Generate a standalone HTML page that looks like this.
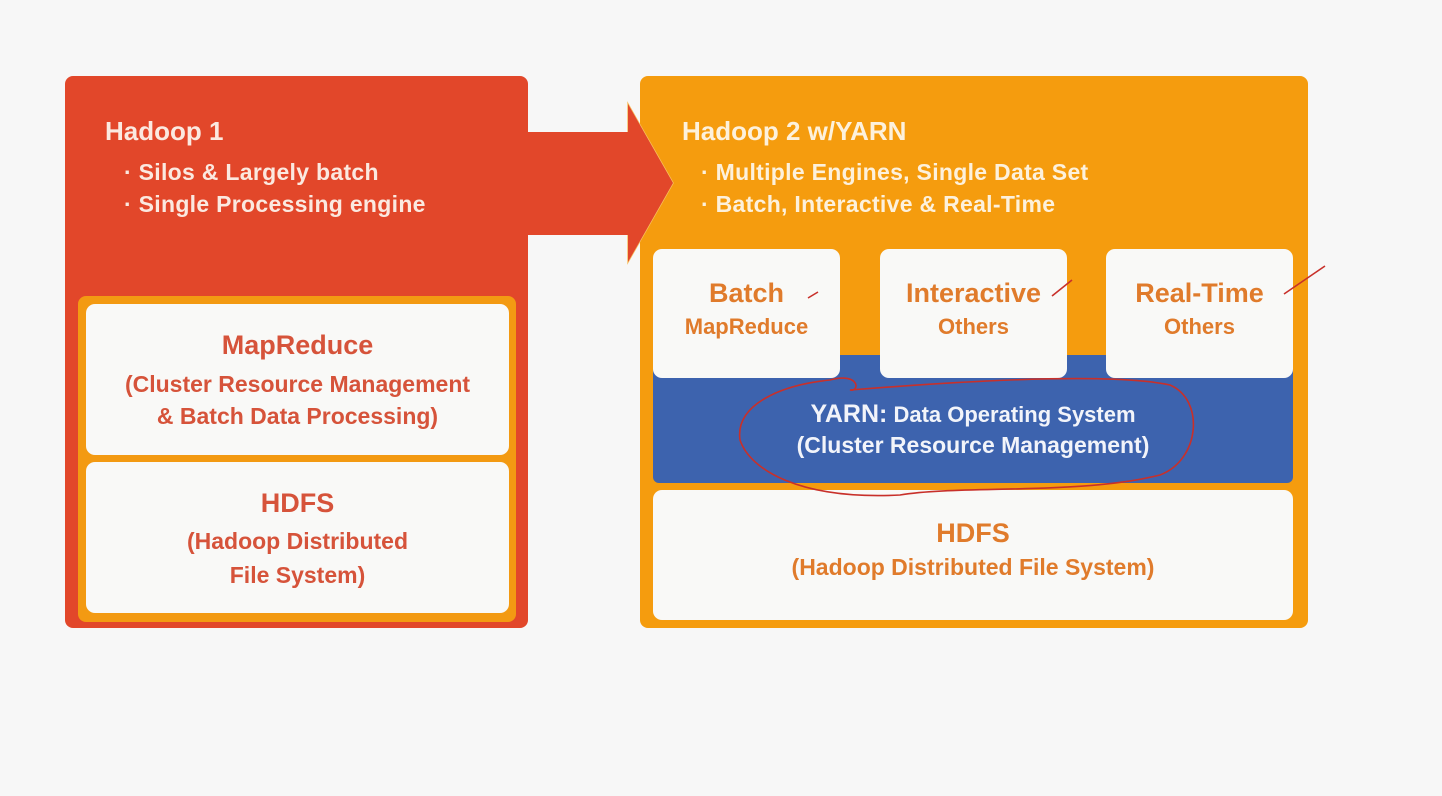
<!DOCTYPE html>
<html><head><meta charset="utf-8"><style>
body{margin:0;width:1442px;height:796px;background:#f7f7f7;position:relative;overflow:hidden;font-family:"Liberation Sans","DejaVu Sans",sans-serif;font-weight:bold}
.a{position:absolute}
.w{position:absolute;background:#f9f9f7;border-radius:9px}
.t{position:absolute;text-align:center;white-space:nowrap}
</style></head><body>
<div class="a" style="left:65px;top:76px;width:463px;height:552px;background:#e2472a;border-radius:8px"></div>
<div class="a" style="left:78px;top:296px;width:438px;height:326px;background:#f39a12;border-radius:8px"></div>
<div class="w" style="left:86px;top:304px;width:423px;height:151px"></div>
<div class="w" style="left:86px;top:462px;width:423px;height:151px"></div>
<div class="a" style="left:105px;top:116px;color:#fbe9e0;font-size:26px">Hadoop 1</div>
<div class="a" style="left:124px;top:156px;color:#fbe9e0;font-size:23px;line-height:32px;letter-spacing:0.3px">· Silos &amp; Largely batch<br>· Single Processing engine</div>
<div class="t" style="left:86px;width:423px;top:330px;color:#d6533a;font-size:27px">MapReduce</div>
<div class="t" style="left:86px;width:423px;top:368px;color:#d6533a;font-size:23px;line-height:32px">(Cluster Resource Management<br>&amp; Batch Data Processing)</div>
<div class="t" style="left:86px;width:423px;top:488px;color:#d6533a;font-size:27px">HDFS</div>
<div class="t" style="left:86px;width:423px;top:524px;color:#d6533a;font-size:23px;line-height:34px">(Hadoop Distributed<br>File System)</div>

<div class="a" style="left:640px;top:76px;width:668px;height:552px;background:#f59c0e;border-radius:8px"></div>
<svg class="a" style="left:0;top:0" width="1442" height="796">
<polyline points="628,132 628,104 673,183 628,262 628,235" fill="none" stroke="#f7c060" stroke-width="1.5"/>
<polygon points="520,132 628,132 628,104 673,183 628,262 628,235 520,235" fill="#e2472a"/>
</svg>
<div class="a" style="left:653px;top:355px;width:640px;height:128px;background:#3d63ae;border-radius:6px"></div>
<div class="w" style="left:653px;top:249px;width:187px;height:129px"></div>
<div class="w" style="left:880px;top:249px;width:187px;height:129px"></div>
<div class="w" style="left:1106px;top:249px;width:187px;height:129px"></div>
<div class="w" style="left:653px;top:490px;width:640px;height:130px"></div>
<div class="a" style="left:682px;top:116px;color:#fdf1dc;font-size:26px">Hadoop 2 w/YARN</div>
<div class="a" style="left:701px;top:156px;color:#fdf1dc;font-size:23px;line-height:32px;letter-spacing:0.3px">· Multiple Engines, Single Data Set<br>· Batch, Interactive &amp; Real-Time</div>
<div class="t" style="left:653px;width:187px;top:278px;color:#e07b2b;font-size:27px">Batch</div>
<div class="t" style="left:653px;width:187px;top:314px;color:#e07b2b;font-size:22px">MapReduce</div>
<div class="t" style="left:880px;width:187px;top:278px;color:#e07b2b;font-size:27px">Interactive</div>
<div class="t" style="left:880px;width:187px;top:314px;color:#e07b2b;font-size:22px">Others</div>
<div class="t" style="left:1106px;width:187px;top:278px;color:#e07b2b;font-size:27px">Real-Time</div>
<div class="t" style="left:1106px;width:187px;top:314px;color:#e07b2b;font-size:22px">Others</div>
<div class="t" style="left:653px;width:640px;top:400px;color:#f2f4fa;font-size:22px"><span style="font-size:25px">YARN:</span> Data Operating System</div>
<div class="t" style="left:653px;width:640px;top:432px;color:#f2f4fa;font-size:23px">(Cluster Resource Management)</div>
<div class="t" style="left:653px;width:640px;top:518px;color:#e07b2b;font-size:27px">HDFS</div>
<div class="t" style="left:653px;width:640px;top:554px;color:#e07b2b;font-size:23px">(Hadoop Distributed File System)</div>

<svg class="a" style="left:0;top:0" width="1442" height="796" fill="none" stroke="#c8302a" stroke-width="1.6">
<path d="M830,380 C860,372 860,392 850,390 C900,386 1100,370 1170,385 C1205,400 1200,460 1160,475 C1080,495 960,485 900,495 C800,500 750,470 740,440 C735,405 780,385 830,380 Z"/>
<path d="M808,298 L818,292"/>
<path d="M1052,296 L1072,280"/>
<path d="M1284,294 L1325,266"/>
</svg>
</body></html>
